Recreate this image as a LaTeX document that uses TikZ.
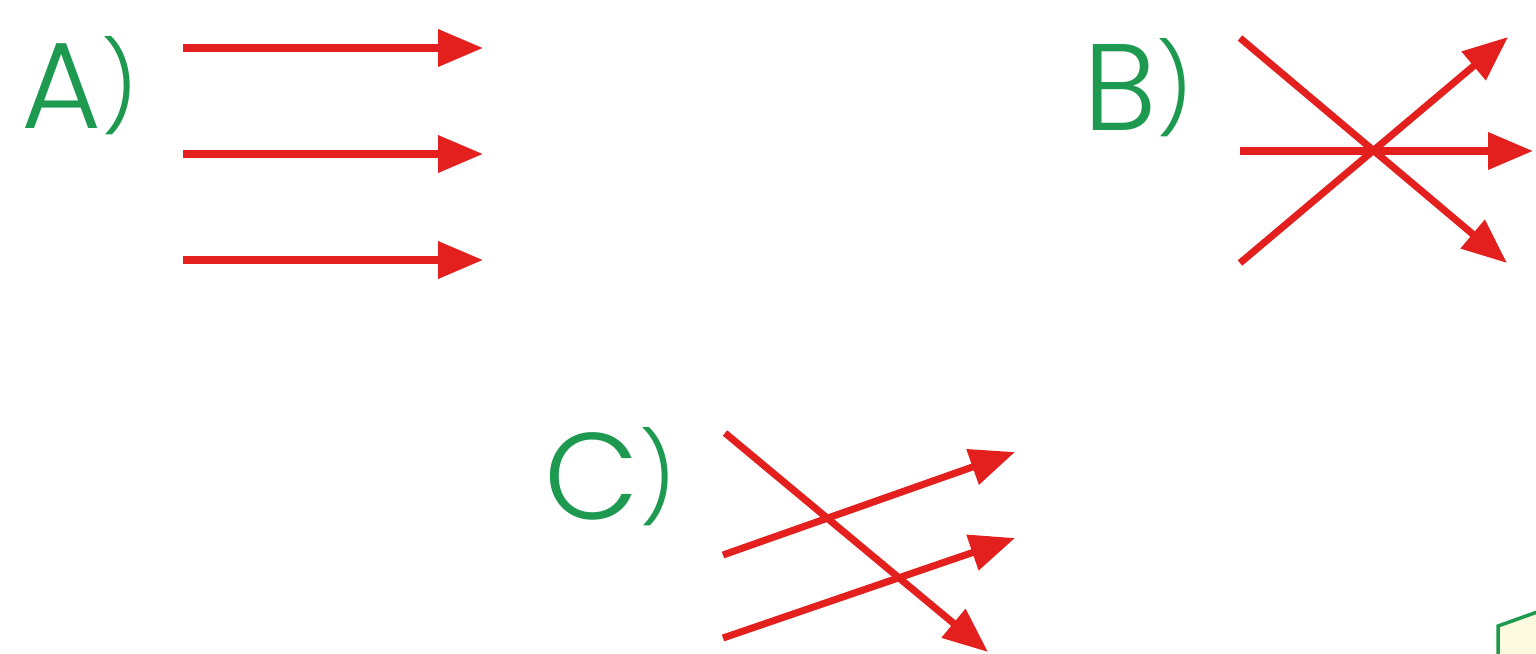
\documentclass[tikz,border=0pt]{standalone}
\usepackage{fontspec}
\setmainfont{Poppins}[UprightFont=* Light]
\usetikzlibrary{arrows.meta}
\definecolor{labelgreen}{HTML}{1E9A50}
\definecolor{rayred}{HTML}{E3201E}
\definecolor{cornerfill}{HTML}{FCFADF}
\newcommand{\closeparen}{\raisebox{0.2cm}{\fontsize{50}{50}\selectfont)}}
\tikzset{
  ray/.style={draw=rayred, line width=4pt,
    -{Triangle[length=0.9cm, width=0.72cm]}},
  optlabel/.style={text=labelgreen, inner sep=0pt, anchor=base west,
    font=\fontsize{70}{70}\selectfont},
}
\begin{document}
\begin{tikzpicture}[x=0.02cm, y=-0.02cm]
  \clip (0,0) rectangle (1536,653);
  % A) parallel rays
  \node[optlabel] (la) at (21,128) {A\closeparen};
  \foreach \i/\yy in {1/48, 2/154, 3/260} {
    \coordinate (a\i s) at (183,\yy);
    \coordinate (a\i e) at (483,\yy);
    \draw[ray] (a\i s) -- (a\i e);
  }
  % B) rays through one point
  \node[optlabel] (lb) at (1083,130) {B\closeparen};
  \coordinate (b1s) at (1240,38);
  \coordinate (b1e) at (1507,263);
  \coordinate (b2s) at (1240,151);
  \coordinate (b2e) at (1533,151);
  \coordinate (b3s) at (1240,263);
  \coordinate (b3e) at (1508,37);
  \foreach \i in {1,2,3}
    \draw[ray] (b\i s) -- (b\i e);
  % C) crossing rays
  \node[optlabel] (lc) at (544,519) {C\closeparen};
  \coordinate (c1s) at (725,433);
  \coordinate (c1e) at (988,652);
  \coordinate (c2s) at (723,555);
  \coordinate (c2e) at (1015,452);
  \coordinate (c3s) at (723,638);
  \coordinate (c3e) at (1015,538);
  \foreach \i in {1,2,3}
    \draw[ray] (c\i s) -- (c\i e);
  % cut-off box in the corner
  \fill[cornerfill] (1498,660) -- (1498,626) -- (1540,611) -- (1540,660) -- cycle;
  \draw[labelgreen, line width=2pt] (1498,660) -- (1498,626) -- (1540,611);
\end{tikzpicture}
\end{document}
